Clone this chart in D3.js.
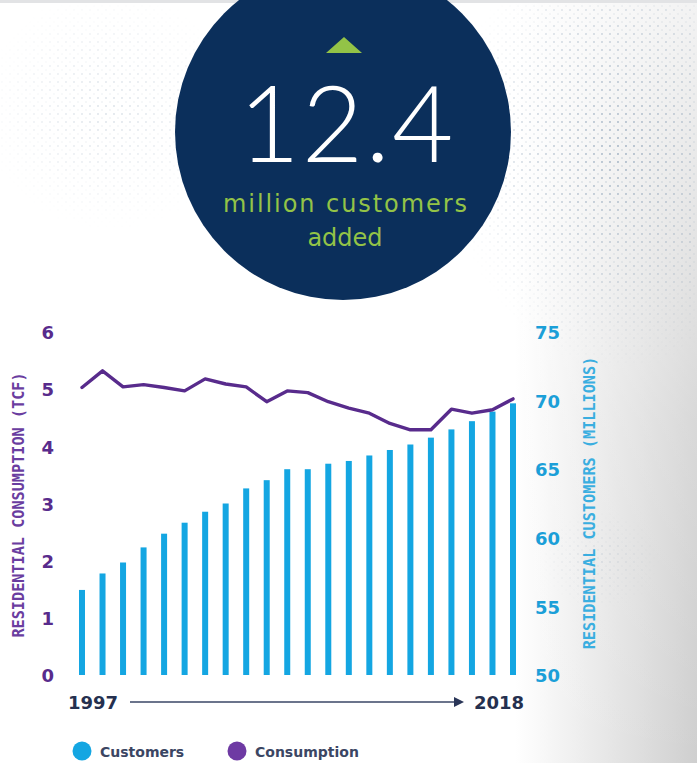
<!DOCTYPE html>
<html>
<head>
<meta charset="utf-8">
<script src="https://cdn.jsdelivr.net/npm/d3@7"></script>
<style>
  html, body { margin: 0; padding: 0; background: #ffffff; }
  svg { display: block; }
</style>
</head>
<body>
<svg id="chart" width="697" height="763"></svg>
<script>
// Residential natural gas: customers (bars, right axis) vs consumption (line, left axis)
const years = [1997, 1998, 1999, 2000, 2001, 2002, 2003, 2004, 2005, 2006, 2007,
               2008, 2009, 2010, 2011, 2012, 2013, 2014, 2015, 2016, 2017, 2018];
// Residential customers, millions
const customers = [56.2, 57.4, 58.2, 59.3, 60.3, 61.1, 61.9, 62.5, 63.6, 64.2, 65.0,
                   65.0, 65.4, 65.6, 66.0, 66.4, 66.8, 67.3, 67.9, 68.5, 69.2, 69.8];
// Residential consumption, TCF
const consumption = [5.03, 5.32, 5.04, 5.08, 5.03, 4.97, 5.18, 5.09, 5.04, 4.78, 4.97,
                     4.94, 4.78, 4.67, 4.58, 4.40, 4.29, 4.29, 4.65, 4.58, 4.64, 4.83];
const leftTicks = [0, 1, 2, 3, 4, 5, 6];
const rightTicks = [50, 55, 60, 65, 70, 75];
const headlineValue = "12.4";
const headlineText = ["million customers", "added"];
const legendItems = ["Customers", "Consumption"];

const W = 697, H = 763;
const BLUE = "#14a6e2", PURPLE = "#582b8c", NAVY = "#0b2f5b", LIME = "#93c347", INK = "#25304f";

const svg = d3.select("#chart");
const defs = svg.append("defs");

// ---- background: white page, grey wash to the right, faint dot screen ----
const wash = defs.append("linearGradient").attr("id", "wash")
  .attr("x1", 0.74).attr("y1", 0).attr("x2", 1).attr("y2", 0);
wash.append("stop").attr("offset", 0).attr("stop-color", "#ffffff");
wash.append("stop").attr("offset", 1).attr("stop-color", "#cfcfcf");

const topFade = defs.append("linearGradient").attr("id", "topFade")
  .attr("x1", 0).attr("y1", 0).attr("x2", 0).attr("y2", 1);
topFade.append("stop").attr("offset", 0).attr("stop-color", "#fff").attr("stop-opacity", 0.75);
topFade.append("stop").attr("offset", 0.55).attr("stop-color", "#fff").attr("stop-opacity", 0.2);
topFade.append("stop").attr("offset", 1).attr("stop-color", "#fff").attr("stop-opacity", 0);

const dotPat = defs.append("pattern").attr("id", "dots")
  .attr("width", 8).attr("height", 8).attr("patternUnits", "userSpaceOnUse");
dotPat.append("circle").attr("cx", 2).attr("cy", 2).attr("r", 1.05).attr("fill", "#8ea3b8");
dotPat.append("circle").attr("cx", 6).attr("cy", 6).attr("r", 0.8).attr("fill", "#a9b8c6");

const dotFade = defs.append("radialGradient").attr("id", "dotFade");
dotFade.append("stop").attr("offset", 0).attr("stop-color", "#fff").attr("stop-opacity", 0.75);
dotFade.append("stop").attr("offset", 0.6).attr("stop-color", "#fff").attr("stop-opacity", 0.35);
dotFade.append("stop").attr("offset", 1).attr("stop-color", "#fff").attr("stop-opacity", 0);

const dotMask = defs.append("mask").attr("id", "dotMask");
dotMask.append("ellipse").attr("cx", 620).attr("cy", 150).attr("rx", 170).attr("ry", 220).attr("fill", "url(#dotFade)");
dotMask.append("ellipse").attr("cx", 110).attr("cy", 110).attr("rx", 130).attr("ry", 120).attr("fill", "url(#dotFade)").attr("opacity", 0.4);
dotMask.append("ellipse").attr("cx", 600).attr("cy", 560).attr("rx", 60).attr("ry", 50).attr("fill", "url(#dotFade)").attr("opacity", 0.3);

svg.append("rect").attr("width", W).attr("height", H).attr("fill", "#ffffff");
svg.append("rect").attr("width", W).attr("height", H).attr("fill", "url(#wash)");
svg.append("rect").attr("width", W).attr("height", H).attr("fill", "url(#topFade)");
svg.append("rect").attr("width", W).attr("height", H).attr("fill", "url(#dots)").attr("mask", "url(#dotMask)");
svg.append("rect").attr("width", W).attr("height", 3).attr("fill", "#e2e3e5");

// ---- headline badge ----
const badge = svg.append("g");
badge.append("circle").attr("cx", 343).attr("cy", 132).attr("r", 168).attr("fill", NAVY);
badge.append("path")
  .attr("d", "M344,37 L362,53 L326,53 Z")
  .attr("fill", LIME);
badge.append("text")
  .attr("x", 347).attr("y", 162)
  .attr("text-anchor", "middle")
  .attr("font-family", "Lato, 'Open Sans', sans-serif")
  .attr("font-weight", 300)
  .attr("font-size", 106)
  .attr("letter-spacing", 2)
  .attr("fill", "#ffffff")
  .text(headlineValue);
badge.selectAll("text.sub").data(headlineText).join("text")
  .attr("class", "sub")
  .attr("x", 345)
  .attr("y", (d, i) => 212 + i * 34)
  .attr("text-anchor", "middle")
  .attr("font-family", "'DejaVu Sans', sans-serif")
  .attr("font-size", 24)
  .attr("fill", LIME)
  .attr("textLength", (d, i) => i === 0 ? 244 : null)
  .attr("lengthAdjust", "spacing")
  .text(d => d);

// ---- scales ----
const x = d3.scalePoint().domain(years).range([82, 513]);
const yL = d3.scaleLinear().domain([0, 6]).range([675, 332]);
const yR = d3.scaleLinear().domain([50, 75]).range([675, 332]);

// ---- customers bars ----
svg.append("g").selectAll("rect").data(years).join("rect")
  .attr("x", d => x(d) - 3)
  .attr("width", 6)
  .attr("y", (d, i) => yR(customers[i]))
  .attr("height", (d, i) => yR(50) - yR(customers[i]))
  .attr("fill", BLUE);

// ---- consumption line ----
svg.append("path")
  .datum(consumption)
  .attr("fill", "none")
  .attr("stroke", PURPLE)
  .attr("stroke-width", 3.4)
  .attr("stroke-linejoin", "round")
  .attr("stroke-linecap", "round")
  .attr("d", d3.line().x((d, i) => x(years[i])).y(d => yL(d)));

// ---- axes (labels only) ----
const axL = svg.append("g").attr("transform", "translate(54,1)")
  .call(d3.axisLeft(yL).tickValues(leftTicks).tickSize(0).tickPadding(0).tickFormat(d3.format("d")));
axL.select(".domain").remove();
axL.selectAll("text")
  .attr("font-family", "'DejaVu Sans', sans-serif")
  .attr("font-weight", "bold")
  .attr("font-size", 18)
  .attr("fill", PURPLE);

const axR = svg.append("g").attr("transform", "translate(535,1)")
  .call(d3.axisRight(yR).tickValues(rightTicks).tickSize(0).tickPadding(0).tickFormat(d3.format("d")));
axR.select(".domain").remove();
axR.selectAll("text")
  .attr("font-family", "'DejaVu Sans', sans-serif")
  .attr("font-weight", "bold")
  .attr("font-size", 18)
  .attr("fill", "#1b9fd8");

svg.append("text")
  .attr("transform", "translate(19,505) rotate(-90)")
  .attr("text-anchor", "middle")
  .attr("dominant-baseline", "central")
  .attr("font-family", "'DejaVu Sans Mono', monospace")
  .attr("font-weight", "bold")
  .attr("font-size", 15.2)
  .attr("fill", "#6a3da0")
  .text("RESIDENTIAL CONSUMPTION (TCF)");

svg.append("text")
  .attr("transform", "translate(590,503) rotate(-90)")
  .attr("text-anchor", "middle")
  .attr("dominant-baseline", "central")
  .attr("font-family", "'DejaVu Sans Mono', monospace")
  .attr("font-weight", "bold")
  .attr("font-size", 15.2)
  .attr("fill", "#3aaee0")
  .text("RESIDENTIAL CUSTOMERS (MILLIONS)");

// ---- time arrow ----
const tl = svg.append("g");
tl.append("text").attr("x", 68).attr("y", 709)
  .attr("font-family", "'DejaVu Sans', sans-serif").attr("font-weight", "bold")
  .attr("font-size", 18).attr("fill", INK).text(years[0]);
tl.append("text").attr("x", 474).attr("y", 709)
  .attr("font-family", "'DejaVu Sans', sans-serif").attr("font-weight", "bold")
  .attr("font-size", 18).attr("fill", INK).text(years[years.length - 1]);
tl.append("line").attr("x1", 130).attr("x2", 456).attr("y1", 702).attr("y2", 702)
  .attr("stroke", "#3a4666").attr("stroke-width", 1.6);
tl.append("path").attr("d", "M464,702 L454,697 L454,707 Z").attr("fill", "#2a3658");

// ---- legend ----
const lg = svg.append("g").selectAll("g").data(legendItems).join("g")
  .attr("transform", (d, i) => `translate(${[82, 237][i]},751)`);
lg.append("circle").attr("r", 9.5).attr("fill", (d, i) => [BLUE, "#6e3aa3"][i]);
lg.append("text").attr("x", 18).attr("y", 6)
  .attr("font-family", "'DejaVu Sans', sans-serif").attr("font-weight", "bold")
  .attr("font-size", 14).attr("fill", "#3b4663")
  .text(d => d);
</script>
</body>
</html>
